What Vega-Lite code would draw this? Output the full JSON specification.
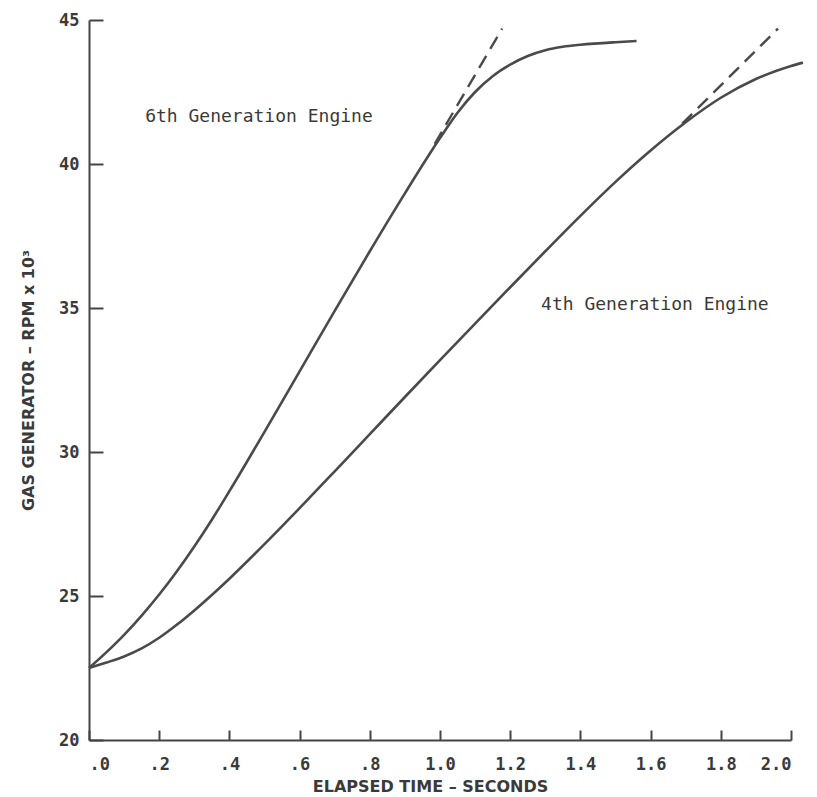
{
  "$schema": "https://vega.github.io/schema/vega-lite/v6.json",
  "autosize": "none",
  "padding": {"left": 89, "top": 20, "right": 26, "bottom": 57},
  "width": 702,
  "height": 720,
  "background": "white",
  "config": {
    "view": {"stroke": null},
    "font": "DejaVu Sans Mono",
    "axis": {
      "grid": false,
      "domainColor": "#444",
      "domainWidth": 2,
      "tickColor": "#444",
      "tickWidth": 2,
      "labelFont": "DejaVu Sans Mono",
      "labelFontSize": 17,
      "labelFontWeight": "bold",
      "labelColor": "#3a3a3a",
      "titleFont": "DejaVu Sans",
      "titleFontWeight": "bold",
      "titleFontSize": 16,
      "titleColor": "#3a3a3a"
    }
  },
  "datasets": {
    "curves": [
      {"t": 0.0, "rpm": 22.5, "engine": "6th", "kind": "curve"},
      {"t": 0.05, "rpm": 23.05, "engine": "6th", "kind": "curve"},
      {"t": 0.1, "rpm": 23.65, "engine": "6th", "kind": "curve"},
      {"t": 0.15, "rpm": 24.32, "engine": "6th", "kind": "curve"},
      {"t": 0.2, "rpm": 25.05, "engine": "6th", "kind": "curve"},
      {"t": 0.25, "rpm": 25.85, "engine": "6th", "kind": "curve"},
      {"t": 0.3, "rpm": 26.72, "engine": "6th", "kind": "curve"},
      {"t": 0.35, "rpm": 27.65, "engine": "6th", "kind": "curve"},
      {"t": 0.4, "rpm": 28.64, "engine": "6th", "kind": "curve"},
      {"t": 0.5, "rpm": 30.7, "engine": "6th", "kind": "curve"},
      {"t": 0.6, "rpm": 32.8, "engine": "6th", "kind": "curve"},
      {"t": 0.7, "rpm": 34.9, "engine": "6th", "kind": "curve"},
      {"t": 0.8, "rpm": 36.97, "engine": "6th", "kind": "curve"},
      {"t": 0.9, "rpm": 38.98, "engine": "6th", "kind": "curve"},
      {"t": 1.0, "rpm": 40.9, "engine": "6th", "kind": "curve"},
      {"t": 1.05, "rpm": 41.78, "engine": "6th", "kind": "curve"},
      {"t": 1.1, "rpm": 42.5, "engine": "6th", "kind": "curve"},
      {"t": 1.15, "rpm": 43.05, "engine": "6th", "kind": "curve"},
      {"t": 1.2, "rpm": 43.45, "engine": "6th", "kind": "curve"},
      {"t": 1.25, "rpm": 43.75, "engine": "6th", "kind": "curve"},
      {"t": 1.3, "rpm": 43.95, "engine": "6th", "kind": "curve"},
      {"t": 1.35, "rpm": 44.07, "engine": "6th", "kind": "curve"},
      {"t": 1.4, "rpm": 44.14, "engine": "6th", "kind": "curve"},
      {"t": 1.5, "rpm": 44.23, "engine": "6th", "kind": "curve"},
      {"t": 1.56, "rpm": 44.27, "engine": "6th", "kind": "curve"},
      {"t": 0.985, "rpm": 40.7, "engine": "6th", "kind": "extension"},
      {"t": 1.177, "rpm": 44.7, "engine": "6th", "kind": "extension"},
      {"t": 0.0, "rpm": 22.5, "engine": "4th", "kind": "curve"},
      {"t": 0.05, "rpm": 22.69, "engine": "4th", "kind": "curve"},
      {"t": 0.1, "rpm": 22.9, "engine": "4th", "kind": "curve"},
      {"t": 0.15, "rpm": 23.18, "engine": "4th", "kind": "curve"},
      {"t": 0.2, "rpm": 23.55, "engine": "4th", "kind": "curve"},
      {"t": 0.25, "rpm": 24.0, "engine": "4th", "kind": "curve"},
      {"t": 0.3, "rpm": 24.5, "engine": "4th", "kind": "curve"},
      {"t": 0.4, "rpm": 25.6, "engine": "4th", "kind": "curve"},
      {"t": 0.5, "rpm": 26.8, "engine": "4th", "kind": "curve"},
      {"t": 0.6, "rpm": 28.05, "engine": "4th", "kind": "curve"},
      {"t": 0.7, "rpm": 29.33, "engine": "4th", "kind": "curve"},
      {"t": 0.8, "rpm": 30.62, "engine": "4th", "kind": "curve"},
      {"t": 0.9, "rpm": 31.91, "engine": "4th", "kind": "curve"},
      {"t": 1.0, "rpm": 33.19, "engine": "4th", "kind": "curve"},
      {"t": 1.1, "rpm": 34.46, "engine": "4th", "kind": "curve"},
      {"t": 1.2, "rpm": 35.72, "engine": "4th", "kind": "curve"},
      {"t": 1.3, "rpm": 36.97, "engine": "4th", "kind": "curve"},
      {"t": 1.4, "rpm": 38.2, "engine": "4th", "kind": "curve"},
      {"t": 1.5, "rpm": 39.38, "engine": "4th", "kind": "curve"},
      {"t": 1.6, "rpm": 40.47, "engine": "4th", "kind": "curve"},
      {"t": 1.7, "rpm": 41.45, "engine": "4th", "kind": "curve"},
      {"t": 1.8, "rpm": 42.3, "engine": "4th", "kind": "curve"},
      {"t": 1.9, "rpm": 42.95, "engine": "4th", "kind": "curve"},
      {"t": 2.0, "rpm": 43.4, "engine": "4th", "kind": "curve"},
      {"t": 2.034, "rpm": 43.52, "engine": "4th", "kind": "curve"},
      {"t": 1.69, "rpm": 41.4, "engine": "4th", "kind": "extension"},
      {"t": 1.963, "rpm": 44.7, "engine": "4th", "kind": "extension"}
    ],
    "labels": [
      {"t": 0.16, "rpm": 41.63, "text": "6th Generation Engine"},
      {"t": 1.288, "rpm": 35.1, "text": "4th Generation Engine"}
    ]
  },
  "encoding": {
    "x": {
      "field": "t",
      "type": "quantitative",
      "scale": {"domain": [0, 2], "nice": false, "zero": false},
      "axis": {
        "title": "ELAPSED TIME – SECONDS",
        "titleX": 341,
        "values": [0, 0.2, 0.4, 0.6, 0.8, 1.0, 1.2, 1.4, 1.6, 1.8, 2.0],
        "labelExpr": "datum.value < 0.99 ? replace(format(datum.value, '.1f'), '0.', '.') : format(datum.value, '.1f')",
        "tickSize": -10,
        "labelPadding": 26,
        "titlePadding": 6,
        "encode": {"ticks": {"update": {"y": {"value": 0}, "y2": {"value": -10}}}}
      }
    },
    "y": {
      "field": "rpm",
      "type": "quantitative",
      "scale": {"domain": [20, 45], "nice": false, "zero": false},
      "axis": {
        "title": "GAS GENERATOR – RPM x 10³",
        "values": [20, 25, 30, 35, 40, 45],
        "tickSize": -14,
        "labelPadding": 24,
        "titlePadding": 22,
        "encode": {"ticks": {"update": {"x": {"value": 0}, "x2": {"value": 14}}}}
      }
    }
  },
  "layer": [
    {
      "data": {"name": "curves"},
      "transform": [{"filter": "datum.kind === 'curve'"}],
      "mark": {"type": "line", "color": "#4a4a4a", "strokeWidth": 2.6, "interpolate": "monotone", "clip": false},
      "encoding": {"detail": {"field": "engine"}}
    },
    {
      "data": {"name": "curves"},
      "transform": [{"filter": "datum.kind === 'extension'"}],
      "mark": {"type": "line", "color": "#4a4a4a", "strokeWidth": 2.4, "strokeDash": [14, 8], "clip": false},
      "encoding": {"detail": {"field": "engine"}}
    },
    {
      "data": {"name": "labels"},
      "mark": {"type": "text", "align": "left", "baseline": "middle", "font": "DejaVu Sans Mono", "fontSize": 18, "color": "#3a3a3a"},
      "encoding": {"text": {"field": "text"}}
    }
  ]
}
